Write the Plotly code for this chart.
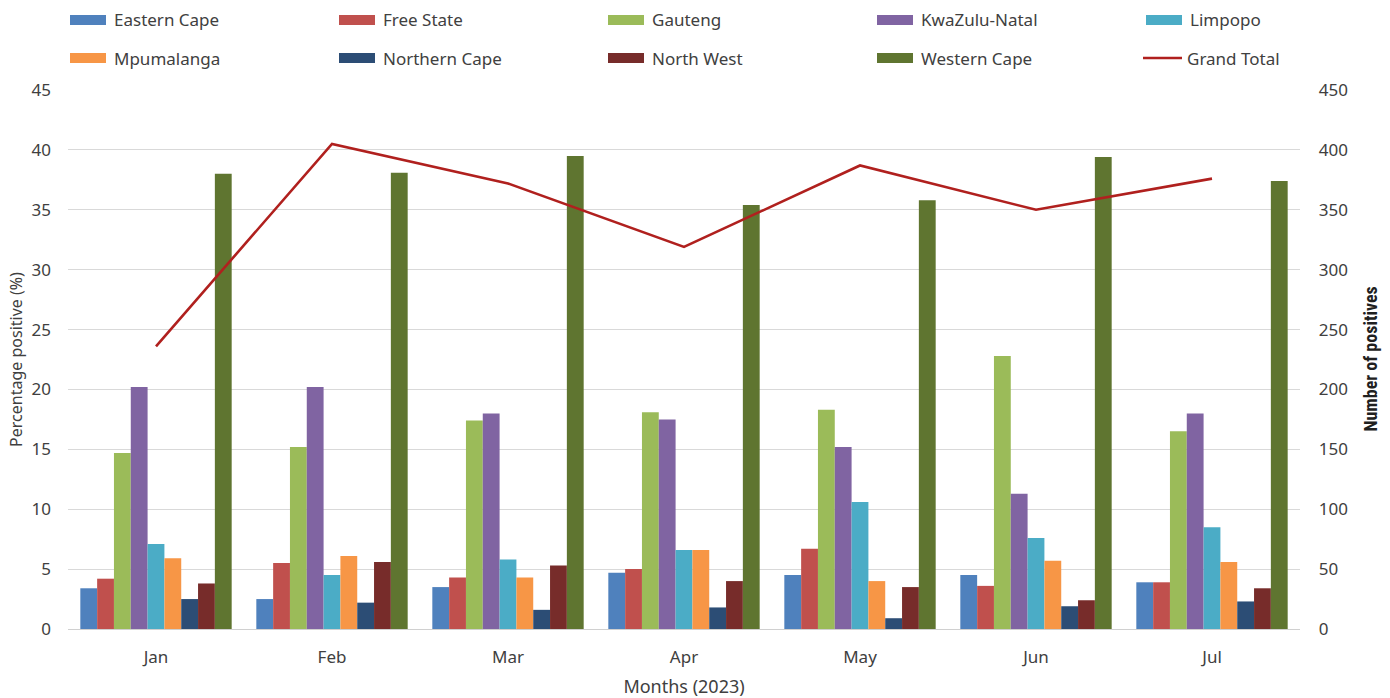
import plotly.graph_objects as go

# Monthly test positivity by province (left axis, %) and total positives (right axis)
months = ["Jan", "Feb", "Mar", "Apr", "May", "Jun", "Jul"]

eastern_cape = [3.4, 2.5, 3.5, 4.7, 4.5, 4.5, 3.9]
free_state = [4.2, 5.5, 4.3, 5.0, 6.7, 3.6, 3.9]
gauteng = [14.7, 15.2, 17.4, 18.1, 18.3, 22.8, 16.5]
kwazulu_natal = [20.2, 20.2, 18.0, 17.5, 15.2, 11.3, 18.0]
limpopo = [7.1, 4.5, 5.8, 6.6, 10.6, 7.6, 8.5]
mpumalanga = [5.9, 6.1, 4.3, 6.6, 4.0, 5.7, 5.6]
northern_cape = [2.5, 2.2, 1.6, 1.8, 0.9, 1.9, 2.3]
north_west = [3.8, 5.6, 5.3, 4.0, 3.5, 2.4, 3.4]
western_cape = [38.0, 38.1, 39.5, 35.4, 35.8, 39.4, 37.4]

grand_total = [236, 405, 372, 319, 387, 350, 376]

provinces = [
    ("Eastern Cape", eastern_cape, "#4F81BD"),
    ("Free State", free_state, "#C0504D"),
    ("Gauteng", gauteng, "#9BBB59"),
    ("KwaZulu-Natal", kwazulu_natal, "#8064A2"),
    ("Limpopo", limpopo, "#4BACC6"),
    ("Mpumalanga", mpumalanga, "#F79646"),
    ("Northern Cape", northern_cape, "#2C4D75"),
    ("North West", north_west, "#772C2A"),
    ("Western Cape", western_cape, "#5F7530"),
]
total_name = "Grand Total"
total_color = "#B0201E"

W, H = 1390, 698
M_L, M_R, M_T, M_B = 68, 90, 90, 69
PW = W - M_L - M_R
PH = H - M_T - M_B

FONT = "Noto Sans"
TXT = "#404040"
FS = 17

fig = go.Figure()
for name, vals, color in provinces:
    fig.add_trace(go.Bar(x=months, y=vals, name=name, marker_color=color,
                         marker_line_width=0, showlegend=False))

fig.add_trace(go.Scatter(x=months, y=grand_total, name=total_name, yaxis="y2",
                         mode="lines", line=dict(color=total_color, width=2.6),
                         showlegend=False))


def px_x(p):
    return (p - M_L) / PW


def px_y(p):
    return (H - M_B - p) / PH


# Legend drawn as two rows of five entries each
shapes = []
annotations = []
entries = [(n, c, "bar") for n, _, c in provinces] + [(total_name, total_color, "line")]
col_x0, col_step = 70, 269
row_y = [20, 58]
for i, (name, color, kind) in enumerate(entries):
    row, col = divmod(i, 5)
    x0 = col_x0 + col * col_step
    yc = row_y[row]
    if kind == "bar":
        shapes.append(dict(type="rect", xref="paper", yref="paper",
                           x0=px_x(x0), x1=px_x(x0 + 36),
                           y0=px_y(yc + 5), y1=px_y(yc - 5),
                           fillcolor=color, line=dict(width=0)))
        tx = x0 + 42
    else:
        shapes.append(dict(type="line", xref="paper", yref="paper",
                           x0=px_x(x0 - 3), x1=px_x(x0 + 36),
                           y0=px_y(yc), y1=px_y(yc),
                           line=dict(color=color, width=2.6)))
        tx = x0 + 39
    annotations.append(dict(text=name, xref="paper", yref="paper",
                            x=px_x(tx), y=px_y(yc), xanchor="left", yanchor="middle",
                            showarrow=False, font=dict(family=FONT, size=FS, color=TXT)))

annotations.append(dict(text="<b>Number of positives</b>", xref="paper", yref="paper",
                        x=px_x(1370), y=0.5, textangle=-90, xanchor="center",
                        yanchor="middle", showarrow=False,
                        font=dict(family="Liberation Sans Narrow, Roboto Condensed, Noto Sans",
                                  size=18, color="#202020")))

fig.update_layout(
    width=W, height=H,
    margin=dict(l=M_L, r=M_R, t=M_T, b=M_B),
    paper_bgcolor="white", plot_bgcolor="white",
    barmode="group", bargap=0.14, bargroupgap=0,
    font=dict(family=FONT, size=FS, color=TXT),
    xaxis=dict(showgrid=False, showline=True, linecolor="#D0D0D0", linewidth=1,
               automargin=False,
               ticks="outside", ticklen=13, tickcolor="rgba(0,0,0,0)",
               tickfont=dict(size=FS, color=TXT),
               title=dict(text="Months (2023)", font=dict(size=18, color=TXT), standoff=12)),
    yaxis=dict(range=[0, 45], dtick=5, showgrid=True, gridcolor="#D9D9D9", gridwidth=1,
               automargin=False,
               zeroline=False, showline=False, ticks="", ticklabelstandoff=16,
               tickfont=dict(size=FS, color=TXT),
               title=dict(text="Percentage positive (%)", font=dict(size=16, color=TXT),
                          standoff=4)),
    yaxis2=dict(range=[0, 450], dtick=50, overlaying="y", side="right",
                automargin=False, tickprefix="\u00a0\u00a0\u00a0\u00a0",
                showgrid=False, zeroline=False, showline=False, ticks="",
                tickfont=dict(size=FS, color=TXT)),
    shapes=shapes,
    annotations=annotations,
)

fig.write_html("out.html")
